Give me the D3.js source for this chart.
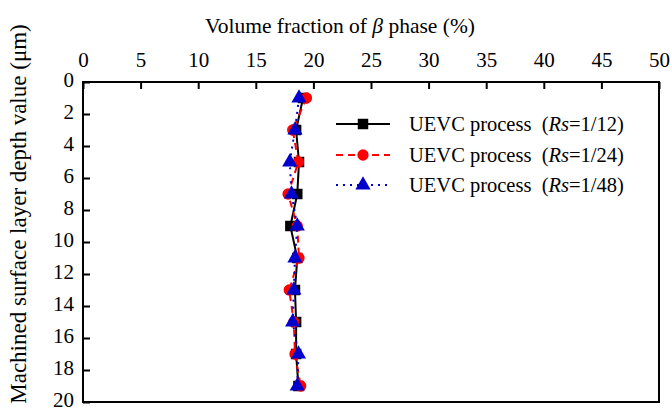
<!DOCTYPE html>
<html>
<head>
<meta charset="utf-8">
<script src="https://cdn.jsdelivr.net/npm/d3@7"></script>
<style>
  body { margin: 0; background: #fff; }
  text { font-family: "Liberation Serif", "Times New Roman", serif; }
</style>
</head>
<body>
<svg id="mainsvg" width="671" height="410"></svg>
<script>
// depth of each measurement (um)
let depths = [1, 3, 5, 7, 9, 11, 13, 15, 17, 19];
// volume fraction of beta phase (%)
let rs12 = [19.1, 18.5, 18.75, 18.6, 18.0, 18.6, 18.4, 18.5, 18.5, 18.7];
let rs24 = [19.4, 18.2, 18.7, 17.8, 18.6, 18.75, 17.9, 18.3, 18.4, 18.9];
let rs48 = [18.75, 18.4, 17.95, 18.1, 18.6, 18.4, 18.3, 18.2, 18.7, 18.6];
let seriesNames = ["1/12", "1/24", "1/48"];
let xTicks = [0, 5, 10, 15, 20, 25, 30, 35, 40, 45, 50];
let yTicks = [0, 2, 4, 6, 8, 10, 12, 14, 16, 18, 20];

let svg = d3.select("#mainsvg");
let pLeft = 83, pRight = 659, pTop = 82, pBottom = 402;

let x = d3.scaleLinear().domain([0, 50]).range([pLeft, pRight]);
let y = d3.scaleLinear().domain([0, 20]).range([pTop, pBottom]);

// frame
svg.append("rect")
    .attr("x", pLeft).attr("y", pTop)
    .attr("width", pRight - pLeft).attr("height", pBottom - pTop)
    .attr("fill", "none").attr("stroke", "#000").attr("stroke-width", 2);

// top axis
let xAxis = svg.append("g")
    .attr("transform", "translate(0," + pTop + ")")
    .call(d3.axisTop(x).tickValues(xTicks).tickSizeInner(-7).tickSizeOuter(0).tickPadding(15));
xAxis.select(".domain").remove();
xAxis.selectAll("line").attr("stroke-width", 2);
xAxis.selectAll("text").attr("font-size", 21).attr("fill", "#000");

// left axis
let yAxis = svg.append("g")
    .attr("transform", "translate(" + pLeft + ",0)")
    .call(d3.axisLeft(y).tickValues(yTicks).tickSizeInner(-7).tickSizeOuter(0).tickPadding(9));
yAxis.select(".domain").remove();
yAxis.selectAll("line").attr("stroke-width", 2);
yAxis.selectAll("text").attr("font-size", 21).attr("fill", "#000").attr("dy", "0.2em");

// titles
svg.append("text")
    .attr("x", 340).attr("y", 33)
    .attr("text-anchor", "middle").attr("font-size", 21.5)
    .html('Volume fraction of <tspan font-style="italic">β</tspan> phase (%)');

svg.append("text")
    .attr("transform", "translate(26,214) rotate(-90)")
    .attr("text-anchor", "middle").attr("font-size", 23)
    .text("Machined surface layer depth value (μm)");

let styles = [
    {vals: rs12, color: "#000", dash: null, shape: d3.symbolSquare, size: 110},
    {vals: rs24, color: "#f00", dash: "7,5", shape: d3.symbolCircle, size: 100},
    {vals: rs48, color: "#00c", dash: "2,5", shape: d3.symbolTriangle, size: 100}
];

let line = d3.line().x(d => x(d[1])).y(d => y(d[0]));

styles.forEach(s => {
    let pts = depths.map((d, i) => [d, s.vals[i]]);
    let g = svg.append("g");
    g.append("path")
        .attr("d", line(pts))
        .attr("fill", "none").attr("stroke", s.color).attr("stroke-width", 2)
        .attr("stroke-dasharray", s.dash);
    g.selectAll("path.mk").data(pts).enter()
        .append("path").attr("class", "mk")
        .attr("d", d3.symbol().type(s.shape).size(s.size))
        .attr("transform", d => "translate(" + x(d[1]) + "," + y(d[0]) + ")")
        .attr("fill", s.color);
});

// legend
let legY = [124, 155, 185];
styles.forEach((s, i) => {
    let g = svg.append("g").attr("transform", "translate(0," + legY[i] + ")");
    g.append("line")
        .attr("x1", 336).attr("x2", 390).attr("y1", 0).attr("y2", 0)
        .attr("stroke", s.color).attr("stroke-width", 2)
        .attr("stroke-dasharray", s.dash);
    g.append("path")
        .attr("d", d3.symbol().type(s.shape).size(s.size))
        .attr("transform", "translate(363,0)")
        .attr("fill", s.color);
    g.append("text")
        .attr("x", 409).attr("y", 7).attr("font-size", 20.5)
        .attr("xml:space", "preserve")
        .html('UEVC process  (<tspan font-style="italic">Rs</tspan>=' + seriesNames[i] + ')');
});
</script>
</body>
</html>
